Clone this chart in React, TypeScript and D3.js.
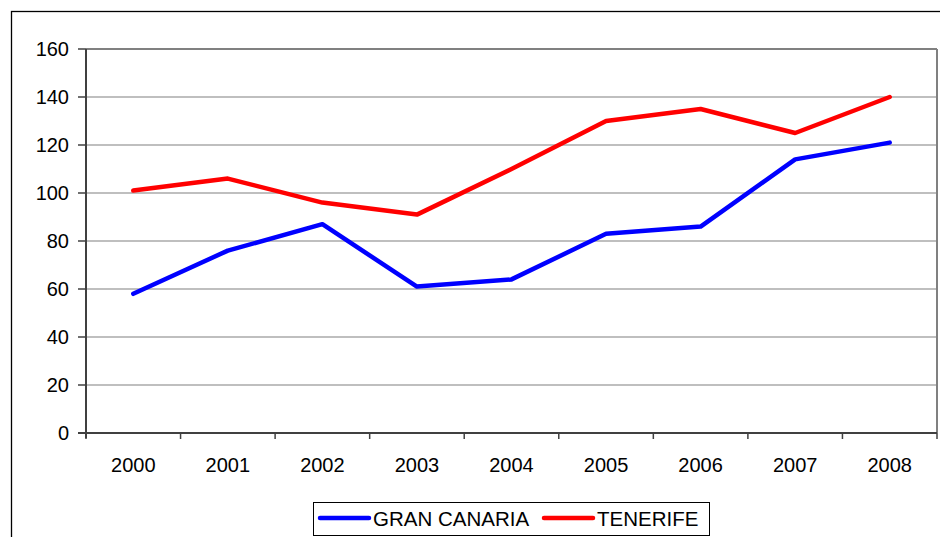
import React from "react";
import * as d3 from "d3";

const years = ["2000", "2001", "2002", "2003", "2004", "2005", "2006", "2007", "2008"];
const granCanaria = [58, 76, 87, 61, 64, 83, 86, 114, 121];
const tenerife = [101, 106, 96, 91, 110, 130, 135, 125, 140];
const yTicks = [0, 20, 40, 60, 80, 100, 120, 140, 160];
const seriesNames = ["GRAN CANARIA", "TENERIFE"];

const W = 940;
const H = 537;
const left = 86, right = 937, top = 49, bottom = 433;
const font = "'Liberation Sans', Arial, sans-serif";

export default function App() {
  const x = d3.scaleBand<string>().domain(years).range([left, right]);
  const y = d3.scaleLinear().domain([0, 160]).range([bottom, top]);
  const line = d3
    .line<number>()
    .x((_, i) => (x(years[i]) as number) + x.bandwidth() / 2)
    .y((d) => y(d));
  const series = [
    { name: seriesNames[0], values: granCanaria, color: "#0000FF" },
    { name: seriesNames[1], values: tenerife, color: "#FF0000" },
  ];
  const bounds = [...years.map((yr) => x(yr) as number), right];
  return (
    <svg
      width={W}
      height={H}
      style={{ position: "absolute", left: 0, top: 0, background: "#fff" }}
    >
      <rect x={11.5} y={11.5} width={W + 20} height={H + 20} fill="#fff" stroke="#000" strokeWidth={1.3} />
      {yTicks.slice(1).map((t) => (
        <line key={t} x1={left} x2={right} y1={y(t)} y2={y(t)} stroke="#808080" strokeWidth={1.2} />
      ))}
      <line x1={right} x2={right} y1={top} y2={bottom} stroke="#808080" strokeWidth={2} />
      <line x1={left} x2={right} y1={top} y2={top} stroke="#808080" strokeWidth={2} />
      <line x1={left} x2={left} y1={top} y2={bottom + 5} stroke="#404040" strokeWidth={2} />
      <line x1={left - 8} x2={right} y1={bottom} y2={bottom} stroke="#404040" strokeWidth={2} />
      {yTicks.map((t) => (
        <g key={t}>
          <line x1={left - 8} x2={left} y1={y(t)} y2={y(t)} stroke="#404040" strokeWidth={1.5} />
          <text x={left - 17} y={y(t)} dy="0.36em" textAnchor="end" fontFamily={font} fontSize={20} fill="#000">
            {t}
          </text>
        </g>
      ))}
      {bounds.map((b, i) => (
        <line key={i} x1={b} x2={b} y1={bottom} y2={bottom + 6} stroke="#404040" strokeWidth={1.5} />
      ))}
      {years.map((yr) => (
        <text
          key={yr}
          x={(x(yr) as number) + x.bandwidth() / 2}
          y={471.5}
          textAnchor="middle"
          fontFamily={font}
          fontSize={20}
          fill="#000"
        >
          {yr}
        </text>
      ))}
      {series.map((s) => (
        <path
          key={s.name}
          d={line(s.values) as string}
          fill="none"
          stroke={s.color}
          strokeWidth={4.5}
          strokeLinejoin="round"
          strokeLinecap="round"
        />
      ))}
      <rect x={313.5} y={502.5} width={396} height={33} fill="#fff" stroke="#000" strokeWidth={1} />
      {series.map((s, i) => {
        const lx = i === 0 ? 320 : 544;
        return (
          <g key={s.name}>
            <line x1={lx} x2={lx + 49} y1={518} y2={518} stroke={s.color} strokeWidth={4.5} strokeLinecap="round" />
            <text x={lx + 53} y={526} fontFamily={font} fontSize={20.5} fill="#000">
              {s.name}
            </text>
          </g>
        );
      })}
    </svg>
  );
}
